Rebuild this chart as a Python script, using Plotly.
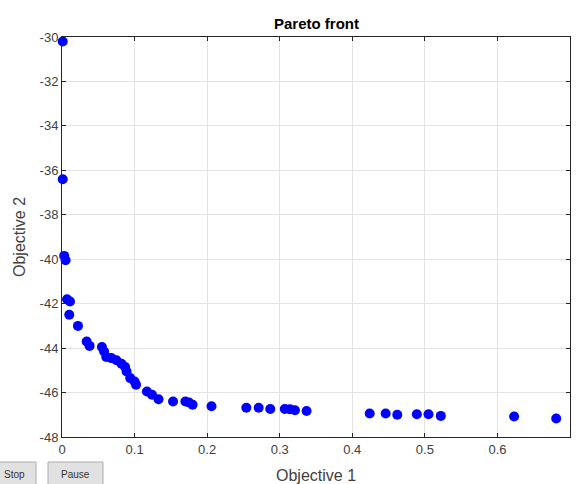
import plotly.graph_objects as go

# ---- data ----
obj1 = [0.001, 0.001, 0.003, 0.005, 0.007, 0.011, 0.010, 0.022, 0.034, 0.038,
        0.055, 0.058, 0.061, 0.068, 0.075, 0.082, 0.087, 0.089, 0.094, 0.100,
        0.102, 0.117, 0.124, 0.133, 0.153, 0.170, 0.175, 0.180, 0.206, 0.254,
        0.271, 0.287, 0.307, 0.314, 0.321, 0.337, 0.424, 0.446, 0.462, 0.489,
        0.505, 0.522, 0.623, 0.681]
obj2 = [-30.2, -36.4, -39.85, -40.05, -41.8, -41.9, -42.5, -43.0, -43.7, -43.9,
        -43.95, -44.15, -44.4, -44.45, -44.55, -44.7, -44.85, -45.05, -45.35, -45.5,
        -45.65, -45.95, -46.1, -46.3, -46.4, -46.4, -46.45, -46.55, -46.62, -46.68,
        -46.68, -46.74, -46.74, -46.75, -46.8, -46.83, -46.94, -46.94, -47.0, -46.98,
        -46.98, -47.05, -47.08, -47.17]

x_ticks = [0, 0.1, 0.2, 0.3, 0.4, 0.5, 0.6, 0.7]
x_tick_labels = ["0", "0.1", "0.2", "0.3", "0.4", "0.5", "0.6", "0.7"]
y_ticks = [-48, -46, -44, -42, -40, -38, -36, -34, -32, -30]
y_tick_labels = ["-48", "-46", "-44", "-42", "-40", "-38", "-36", "-34", "-32", "-30"]

title_text = "Pareto front"
x_label = "Objective 1"
y_label = "Objective 2"
buttons = ["Stop", "Pause"]

# ---- layout geometry (pixels) ----
W, H = 578, 484
L, R, T, B = 62, 8, 37, 47
PW, PH = W - L - R, H - T - B


def px(xp):
    return (xp - L) / PW


def py(yp):
    return (H - B - yp) / PH


axis_col = "#262626"
text_col = "#404040"
font_family = "Arial, Liberation Sans, Helvetica, sans-serif"

fig = go.Figure()
fig.add_trace(go.Scatter(
    x=obj1, y=obj2, mode="markers",
    marker=dict(color="#0000ff", size=10, line=dict(width=0)),
    showlegend=False, cliponaxis=False,
))

common_axis = dict(
    showline=True, linecolor=axis_col, linewidth=1, mirror="ticks",
    ticks="inside", ticklen=4, tickcolor=axis_col, tickwidth=1,
    showgrid=True, gridcolor="#e3e3e3", gridwidth=1, zeroline=False,
    tickfont=dict(family=font_family, size=13, color=text_col),
)

fig.update_xaxes(range=[0, 0.7], tickvals=x_ticks, ticktext=x_tick_labels, **common_axis)
fig.update_yaxes(range=[-48, -30], tickvals=y_ticks, ticktext=y_tick_labels, **common_axis)

annotations = [
    dict(text="<b>" + title_text + "</b>", x=0.5, y=py(23), xref="paper", yref="paper",
         showarrow=False, xanchor="center", yanchor="middle",
         font=dict(family=font_family, size=15, color="#000000")),
    dict(text=x_label, x=px(316), y=py(476), xref="paper", yref="paper",
         showarrow=False, xanchor="center", yanchor="middle",
         font=dict(family=font_family, size=16, color=text_col)),
    dict(text=y_label, x=px(19), y=0.5, xref="paper", yref="paper", textangle=-90,
         showarrow=False, xanchor="center", yanchor="middle",
         font=dict(family=font_family, size=16, color=text_col)),
]

shapes = []
btn_boxes = [(-12, 36), (48, 103)]
btn_centers = [14, 75]
for name, (x0, x1), cx in zip(buttons, btn_boxes, btn_centers):
    shapes.append(dict(type="rect", xref="paper", yref="paper",
                       x0=px(x0), x1=px(x1), y0=py(462), y1=py(490),
                       fillcolor="#e1e1e1", line=dict(color="#adadad", width=1),
                       layer="above"))
    annotations.append(dict(text=name, x=px(cx), y=py(474), xref="paper", yref="paper",
                            showarrow=False, xanchor="center", yanchor="middle",
                            font=dict(family=font_family, size=10, color="#333333")))

fig.update_layout(
    width=W, height=H,
    margin=dict(l=L, r=R, t=T, b=B, pad=0),
    paper_bgcolor="#ffffff", plot_bgcolor="#ffffff",
    annotations=annotations, shapes=shapes,
    font=dict(family=font_family),
)

fig.write_html(
    "out.html",
    config={"displayModeBar": False},
    post_script="document.body.style.margin='0';document.body.style.overflow='hidden';",
)
